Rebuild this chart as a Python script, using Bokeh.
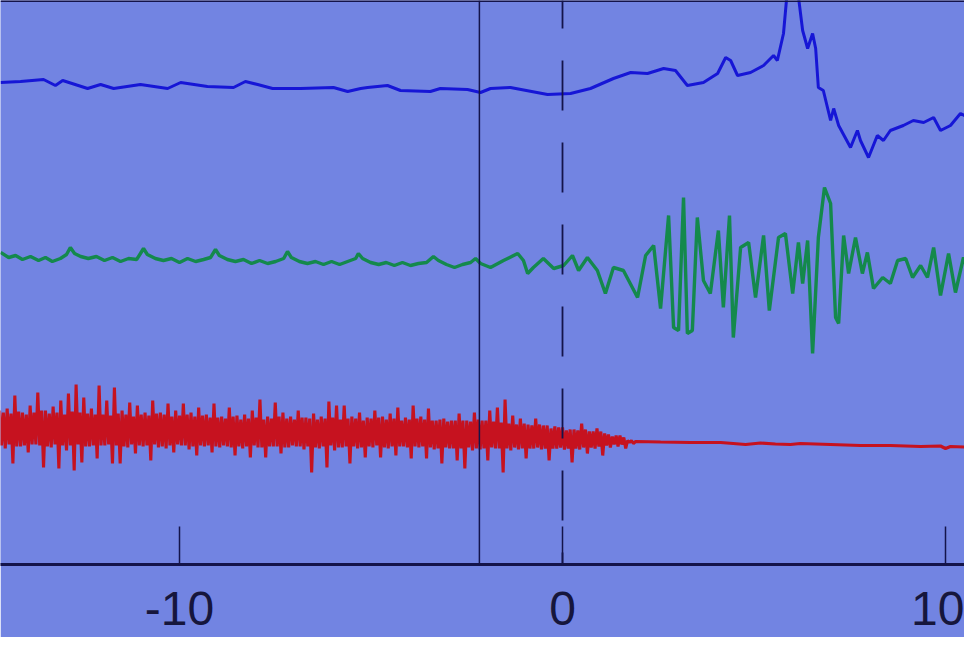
import numpy as np
from bokeh.plotting import figure
from bokeh.models import Range1d, Span, FixedTicker
from bokeh.embed import file_html
from bokeh.resources import INLINE

# ---------------- data ----------------
tick_values = [-10, 0, 10]
tick_labels = {-10: "-10", 0: "0", 10: "10"}
event_solid_t = -2.17
event_dashed_t = 0.0

# blue trace: time (s) and amplitude
blue_t = [-14.67, -14.15, -13.55, -13.24, -13.05, -12.40, -12.06, -11.72, -11.02, -10.31,
          -9.97, -9.27, -8.59, -8.28, -7.96, -7.57, -6.84, -5.98, -5.61, -5.27,
          -5.09, -4.83, -4.57, -4.23, -3.45, -3.19, -2.48, -2.14, -1.88, -1.36,
          -0.39, 0.21, 0.73, 1.33, 1.78, 2.22, 2.64, 2.95, 3.26, 3.68,
          4.05, 4.26, 4.39, 4.57, 4.91, 5.25, 5.51, 5.61, 5.77, 5.87,
          6.01, 6.14, 6.27, 6.40, 6.53, 6.61, 6.68, 6.81, 7.00, 7.08,
          7.21, 7.52, 7.70, 7.78, 7.99, 8.22, 8.38, 8.56, 8.90, 9.16,
          9.43, 9.69, 9.87, 10.13, 10.39, 10.65, 10.91]
blue_v = [6, 7, 9, 3, 8, 0, 4, 0, 4, 0,
          6, 2, 1, 7, 4, 0, 0, 1, -3, 0,
          1, 2, 3, -2, -3, 0, -1, -4, 0, 1,
          -6, -5, 0, 10, 16, 15, 20, 18, 3, 6,
          15, 31, 28, 13, 16, 23, 33, 28, 55, 98,
          113, 98, 58, 40, 55, 40, 1, -2, -32, -20,
          -37, -59, -42, -52, -69, -47, -52, -42, -37, -32,
          -34, -29, -42, -37, -25, -30, -24]

# green trace: time (s) and amplitude
green_t = [-14.67, -14.46, -14.28, -14.10, -13.89, -13.68, -13.50, -13.32, -13.11, -12.95,
           -12.85, -12.74, -12.58, -12.38, -12.17, -11.96, -11.75, -11.54, -11.33, -11.12,
           -11.02, -10.94, -10.84, -10.63, -10.42, -10.21, -10.00, -9.79, -9.58, -9.37,
           -9.19, -9.06, -8.96, -8.75, -8.54, -8.33, -8.12, -7.91, -7.70, -7.49,
           -7.28, -7.18, -7.08, -6.87, -6.66, -6.45, -6.24, -6.03, -5.82, -5.61,
           -5.40, -5.33, -5.22, -5.01, -4.80, -4.60, -4.39, -4.18, -3.97, -3.76,
           -3.55, -3.37, -3.24, -3.03, -2.82, -2.61, -2.40, -2.27, -2.14,
           -1.88, -1.54, -1.17, -1.02, -0.91, -0.76, -0.50, -0.23, 0.03,
           0.26, 0.42, 0.65, 0.91, 1.12, 1.33, 1.59, 1.96, 2.17, 2.38,
           2.56, 2.77, 2.90, 3.03, 3.16, 3.26, 3.39, 3.52, 3.68, 3.86,
           4.07, 4.20, 4.36, 4.46, 4.65, 4.86, 5.04, 5.25, 5.40, 5.64,
           5.82, 6.01, 6.16, 6.27, 6.40, 6.53, 6.68, 6.84, 7.00, 7.13,
           7.21, 7.34, 7.47, 7.65, 7.83, 7.96, 8.12, 8.36, 8.56, 8.75,
           8.96, 9.14, 9.35, 9.53, 9.69, 9.87, 10.08, 10.26, 10.47, 10.65,
           10.91]
green_v = [13, 8, 10, 6, 9, 5, 8, 4, 7, 11,
           18, 12, 9, 7, 9, 5, 8, 4, 7, 6,
           12, 17, 11, 7, 5, 7, 3, 7, 4, 6,
           8, 16, 10, 6, 4, 6, 2, 5, 2, 4,
           7, 14, 8, 4, 2, 4, 1, 4, 1, 4,
           7, 12, 7, 3, 1, 3, 0, 3, 0, 2,
           3, 9, 5, 1, -2, 1, 3, 7, 2,
           -2, 5, 12, 5, -8, -2, 7, -3, 0,
           10, -5, 8, -5, -28, -2, -5, -32, 10, 20,
           -43, 50, -62, -65, 68, -68, -65, 48, -15, -28,
           35, -42, 50, -72, 18, 23, -32, 30, -45, 28,
           32, -28, 23, -18, 25, -88, 28, 78, 62, -52,
           -58, 30, -8, 28, -8, 13, -23, -12, -18, 5,
           7, -12, 0, -12, 18, -30, 12, -27, 8, -12,
           -2]

# red trace: noisy part sampled every red_dt seconds from red_t0;
# each cycle = outer peak, core trough, core peak, outer trough
red_t0 = -14.7
red_dt = 0.05
red_peaks = [22, 24, 37, 20, 27, 40, 22, 26, 32, 39,
             48, 35, 24, 47, 32, 45, 22, 30, 27, 20,
             32, 20, 29, 22, 29, 20, 25, 18, 29, 16,
             25, 17, 18, 22, 33, 16, 30, 20, 16, 22,
             15, 19, 16, 31, 27, 27, 16, 20, 15, 22,
             16, 19, 25, 15, 27, 16, 24, 12, 14, 12,
             19, 12, 20, 12, 22, 25, 33, 17, 14, 8,
             14, 7, 4, 5, 2, 3, 9, 1, 4, -1,
             -4, -3, -8]
red_core_troughs = [-13, -12, -14, -13, -12, -13, -14, -12, -13, -13, -12, -14, -13,
                    -13, -12, -13, -14, -12, -13, -13, -12, -14, -13, -12, -13, -14, -13, -13,
                    -14, -13, -15, -14, -14, -13, -15, -14, -14, -15, -13, -14, -14, -15,
                    -14, -13, -15, -14, -14, -15, -14, -13, -15, -14, -14, -15, -14, -14,
                    -15, -16, -15, -16, -16, -15, -16, -16, -15, -16,
                    -16, -15, -16, -16, -15, -16, -16, -15,
                    -16, -16, -15, -15, -14,
                    -13, -12, -12, -10]
red_core_peaks = [20, 19, 21, 18, 20, 22, 19, 20, 18, 21, 20, 19, 18,
                  18, 17, 19, 18, 16, 18, 17, 19, 18, 16, 17, 18, 16, 17, 15,
                  15, 14, 16, 13, 14, 15, 13, 14, 16, 14, 13, 15, 14, 13,
                  14, 15, 13, 14, 14, 12, 14, 15, 13, 14, 12, 13, 14, 13,
                  12, 13, 11, 12, 12, 11, 13, 12, 11, 10,
                  9, 8, 9, 7, 8, 7, 6, 5,
                  3, 2, 3, 1, 1,
                  -2, -3, -5, -8]
red_troughs = [-16, -31, -14, -20, -12, -35, -15, -36, -18, -38,
               -30, -14, -26, -13, -31, -31, -15, -21, -14, -28,
               -15, -16, -20, -13, -17, -23, -14, -20, -15, -14,
               -23, -16, -25, -15, -25, -14, -21, -15, -14, -17,
               -40, -16, -35, -18, -15, -31, -16, -25, -15, -25,
               -16, -23, -14, -26, -15, -26, -17, -31, -16, -28,
               -36, -18, -17, -28, -16, -40, -18, -17, -26, -16,
               -17, -28, -16, -17, -30, -17, -21, -16, -23, -15,
               -14, -16, -11]
# red quiet tail
red_tail_t = [1.91, 2.56, 3.34, 4.13, 4.78, 5.17, 5.56, 5.95, 6.21, 7.00,
              7.78, 8.56, 9.35, 9.87, 10.00, 10.13, 10.91]
red_tail_v = [-9, -9.5, -10, -10, -12, -10.5, -11.5, -12, -11, -12,
              -13, -13, -14, -13.5, -16, -14, -15]

# ---------------- layout / style ----------------
BG = "#7284e2"
INK = "#14144a"
blue_offset, green_offset, red_offset = 476, 299, 132

p = figure(width=964, height=637, output_backend="svg", toolbar_location=None,
           x_range=Range1d(-14.674, 10.496), y_range=Range1d(0, 564),
           y_axis_location=None,
           min_border_left=0, min_border_right=0, min_border_top=0, min_border_bottom=73)
p.background_fill_color = BG
p.border_fill_color = BG
p.outline_line_color = None
p.grid.visible = False

ax = p.xaxis[0]
ax.ticker = FixedTicker(ticks=tick_values)
ax.major_label_overrides = tick_labels
ax.axis_line_color = INK
ax.axis_line_width = 2.8
ax.major_tick_in = 38
ax.major_tick_out = 0
ax.major_tick_line_color = INK
ax.major_tick_line_width = 1.5
ax.minor_tick_line_color = None
ax.major_label_text_font = "Liberation Sans"
ax.major_label_text_font_size = "48px"
ax.major_label_text_color = "#16163c"
ax.major_label_standoff = 27

# event markers
p.add_layout(Span(location=event_solid_t, dimension="height", line_color=INK, line_width=1.5))
p.add_layout(Span(location=event_dashed_t, dimension="height", line_color=INK, line_width=1.8,
                  line_dash="50 32", line_dash_offset=22))
p.add_layout(Span(location=p.y_range.end, dimension="width", line_color=INK, line_width=3))

# traces
p.line(blue_t, [v + blue_offset for v in blue_v], line_color="#1616d6", line_width=3)
p.line(green_t, [v + green_offset for v in green_v], line_color="#14894c", line_width=3.4)

red_vals = [v for grp in zip(red_peaks, red_core_troughs, red_core_peaks, red_troughs) for v in grp]
red_t = list(red_t0 + red_dt * np.arange(len(red_vals))) + red_tail_t
red_all = red_vals + red_tail_v
p.line(red_t, [v + red_offset for v in red_all], line_color="#c6121f", line_width=3.1)

open("out.html", "w").write(file_html(p, INLINE))
